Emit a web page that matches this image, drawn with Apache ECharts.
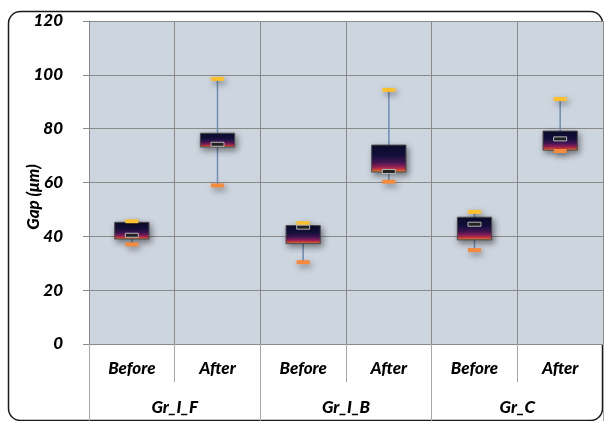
<!DOCTYPE html>
<html>
<head>
<meta charset="utf-8">
<script src="https://cdn.jsdelivr.net/npm/echarts@6/dist/echarts.min.js"></script>
<style>
html,body{margin:0;padding:0;background:#fff;}
#c{width:604px;height:421px;}
</style>
</head>
<body>
<div id="c"></div>
<script>
var categories = ['Before', 'After', 'Before', 'After', 'Before', 'After'];
var groups = ['Gr_I_F', 'Gr_I_B', 'Gr_C'];
var minVals  = [37.0, 58.9, 30.4, 60.3, 34.9, 71.7];
var q1Vals   = [39.0, 73.2, 37.3, 63.9, 38.7, 72.0];
var q3Vals   = [45.2, 78.3, 44.0, 73.9, 47.1, 79.1];
var maxVals  = [45.6, 98.5, 44.9, 94.4, 49.1, 91.0];
var meanVals = [40.4, 74.2, 43.4, 64.1, 44.5, 76.2];
var yTicks = [0, 20, 40, 60, 80, 100, 120];

var chart = echarts.init(document.getElementById('c'), null, {renderer: 'canvas'});
var FONT = 'Lato';
var data = categories.map(function (c, i) {
  return [i, minVals[i], q1Vals[i], q3Vals[i], maxVals[i], meanVals[i]];
});

function renderItem(params, api) {
  var x = api.value(0);
  var pMin = api.coord([x, api.value(1)]);
  var pQ1 = api.coord([x, api.value(2)]);
  var pQ3 = api.coord([x, api.value(3)]);
  var pMax = api.coord([x, api.value(4)]);
  var pMean = api.coord([x, api.value(5)]);
  var bw = api.size([1, 0])[0] * 0.4;
  var cx = pMin[0];
  var capW = 13, capH = 4;
  var grad = new echarts.graphic.LinearGradient(0, 0, 0, 1, [
    {offset: 0, color: '#0A0A2C'},
    {offset: 0.4, color: '#15103E'},
    {offset: 0.62, color: '#3F1552'},
    {offset: 0.78, color: '#8A1E58'},
    {offset: 0.88, color: '#C9383E'},
    {offset: 1, color: '#F7A22E'}
  ]);
  var shadow = {shadowBlur: 6, shadowColor: 'rgba(0,0,0,0.45)', shadowOffsetX: 2, shadowOffsetY: 3};
  return {
    type: 'group',
    children: [
      {type: 'line', shape: {x1: cx, y1: pMax[1], x2: cx, y2: pMin[1]},
       style: {stroke: '#6C8DB5', lineWidth: 1.5}},
      {type: 'rect', shape: {x: cx - bw / 2, y: pQ3[1], width: bw, height: pQ1[1] - pQ3[1]},
       style: Object.assign({fill: grad, stroke: '#4A4A4A', lineWidth: 1}, shadow)},
      {type: 'rect', shape: {x: cx - capW / 2, y: pMax[1] - capH / 2, width: capW, height: capH},
       style: Object.assign({fill: '#FCC02C'}, shadow)},
      {type: 'rect', shape: {x: cx - capW / 2, y: pMin[1] - capH / 2, width: capW, height: capH},
       style: Object.assign({fill: '#F5893C'}, shadow)},
      {type: 'rect', shape: {x: cx - 6.5, y: pMean[1] - 2, width: 13, height: 4},
       style: {fill: '#222', stroke: '#B8B8B8', lineWidth: 1}}
    ]
  };
}

var labelStyle = {color: '#000', fontFamily: FONT, fontWeight: 900, fontStyle: 'italic', fontSize: 17};

chart.setOption({
  animation: false,
  backgroundColor: '#fff',
  graphic: [
    {type: 'rect', left: 6, top: 9, z: -1,
     shape: {width: 594, height: 409, r: 12},
     style: {fill: 'none', stroke: '#1a1a1a', lineWidth: 1.5}},
    {type: 'text', x: 34, y: 197, rotation: Math.PI / 2, z: 10,
     style: {text: 'Gap (μm)', fill: '#000', font: 'italic 900 17px Lato', align: 'center', verticalAlign: 'middle'}}
  ],
  grid: {left: 89, right: 1, top: 21, bottom: 77, show: true, backgroundColor: '#CDD5DF', borderWidth: 0},
  xAxis: [
    {type: 'category', data: categories, position: 'bottom', boundaryGap: true,
     axisLine: {show: true, lineStyle: {color: '#8A8A8A', width: 1}},
     axisTick: {show: true, length: 38, lineStyle: {color: '#A8A8A8'}},
     splitLine: {show: true, lineStyle: {color: '#8A8A8A', width: 1}},
     axisLabel: Object.assign({margin: 16}, labelStyle)},
    {type: 'category', data: groups, position: 'bottom', offset: 0, boundaryGap: true,
     axisLine: {show: false},
     axisTick: {show: true, length: 77, lineStyle: {color: '#A8A8A8'}},
     splitLine: {show: false},
     axisLabel: Object.assign({margin: 55}, labelStyle)}
  ],
  yAxis: {
    type: 'value', min: yTicks[0], max: yTicks[yTicks.length - 1], interval: 20,
    axisLine: {show: true, lineStyle: {color: '#8A8A8A'}},
    axisTick: {show: true, length: 6, lineStyle: {color: '#8A8A8A'}},
    splitLine: {show: true, lineStyle: {color: '#8A8A8A', width: 1}},
    axisLabel: Object.assign({margin: 26}, labelStyle)
  },
  series: [{
    type: 'custom',
    xAxisIndex: 0,
    renderItem: renderItem,
    encode: {x: 0, y: [1, 2, 3, 4, 5]},
    data: data,
    clip: false
  }]
});
</script>
</body>
</html>
